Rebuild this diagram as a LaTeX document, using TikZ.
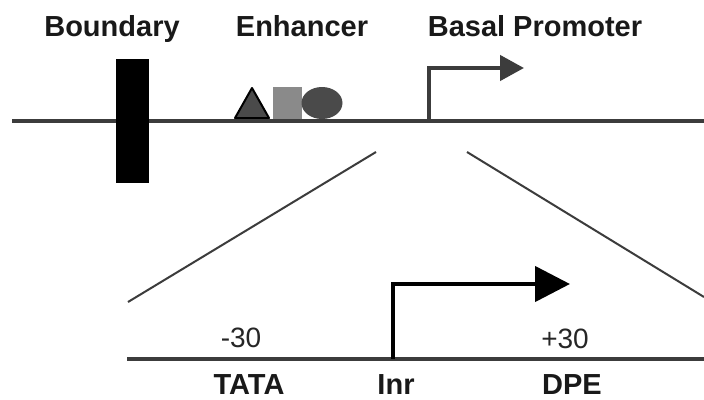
\documentclass[tikz,border=0pt]{standalone}
\usepackage{fontspec}
\setmainfont{Liberation Sans}
\usetikzlibrary{arrows.meta}
\definecolor{dna}{HTML}{3C3C3C}
\definecolor{motifdark}{HTML}{4A4A4A}
\definecolor{motifgray}{HTML}{8A8A8A}
\tikzset{
  label/.style={font=\fontsize{29}{34}\selectfont\bfseries, text=black!90, anchor=base, inner sep=0pt},
  posnum/.style={font=\fontsize{28}{34}\selectfont, text=black!85, anchor=base, inner sep=0pt},
  strand/.style={draw=dna, line width=4.5pt},
  zoomline/.style={draw=dna, line width=2pt},
  tss/.style={line width=4.5pt, -{Triangle[length=24pt,width=25pt]}},
}
\begin{document}
\begin{tikzpicture}[x=1pt,y=-1pt]
  \useasboundingbox (0,0) rectangle (704,399);
  \fill[white] (0,0) rectangle (704,399);

  % headings
  \node[label] (hbound) at (112,36) {Boundary};
  \node[label] (henh)   at (302,36) {Enhancer};
  \node[label] (hprom)  at (535,36) {Basal Promoter};

  % enhancer motifs
  \filldraw[fill=motifdark, draw=black, line width=2pt, line join=round]
    (235,118) -- (269,118) -- (252,88) -- cycle;
  \fill[motifgray] (273,87) rectangle (302,119);
  \fill[motifdark] (322,103) ellipse [x radius=20.5, y radius=16];

  % upper strand
  \coordinate (sL) at (12,121);
  \coordinate (sR) at (704,121);
  \draw[strand] (sL) -- (sR);

  % boundary element
  \fill[black] (116,59) rectangle (149,183);

  % transcription start of the basal promoter
  \coordinate (tssA) at (429,121);
  \coordinate (tssB) at (524,68);
  \draw[tss, draw=dna, color=dna] (tssA) |- (tssB);

  % zoom lines
  \coordinate (zL1) at (376,152);
  \coordinate (zL2) at (128,302);
  \coordinate (zR1) at (467,152);
  \coordinate (zR2) at (704,297);
  \draw[zoomline] (zL1) -- (zL2);
  \draw[zoomline] (zR1) -- (zR2);

  % enlarged promoter
  \coordinate (lL) at (127,359);
  \coordinate (lR) at (704,359);
  \draw[strand] (lL) -- (lR);
  \coordinate (inrA) at (393,359);
  \coordinate (inrB) at (570,284);
  \draw[line width=4.5pt, -{Triangle[length=35pt,width=35pt]}, black] (inrA) |- (inrB);

  \node[posnum] (m30) at (241,347) {-30};
  \node[posnum] (p30) at (565,348) {+30};
  \node[label] (tata) at (249,394) {TATA};
  \node[label] (inr)  at (396,394) {Inr};
  \node[label] (dpe)  at (572,394) {DPE};
\end{tikzpicture}
\end{document}
